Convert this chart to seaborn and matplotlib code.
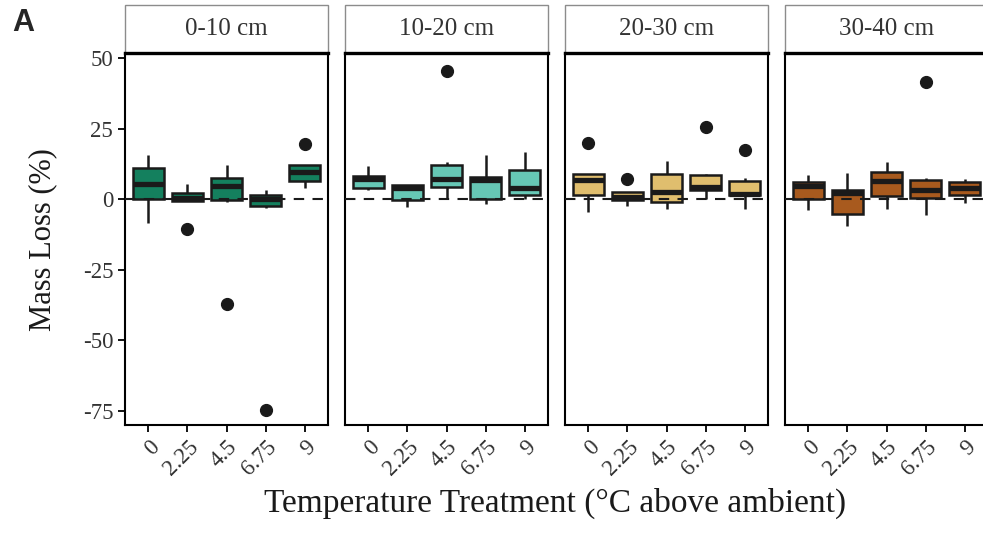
import numpy as np
import pandas as pd
import matplotlib
matplotlib.use("Agg")
import matplotlib.pyplot as plt
from matplotlib.patches import Rectangle
import seaborn as sns

# ==========================================
# DATA (box summaries, % mass loss)
# ==========================================
treatments = ["0", "2.25", "4.5", "6.75", "9"]
depths = ["0-10 cm", "10-20 cm", "20-30 cm", "30-40 cm"]

# whisker low, Q1, median, Q3, whisker high -- one list per depth, one value per treatment
whisk_lo = {
    "0-10 cm":  [-8.5, -0.6, -1.0, -3.2, 3.9],
    "10-20 cm": [3.3, -2.6, 0.0, -1.8, 0.0],
    "20-30 cm": [-4.7, -2.3, -3.5, 0.0, -3.5],
    "30-40 cm": [-3.9, -9.4, -3.5, -5.6, -1.2],
}
q1 = {
    "0-10 cm":  [0.0, -0.6, -0.4, -2.3, 6.5],
    "10-20 cm": [4.1, -0.2, 4.5, 0.0, 1.5],
    "20-30 cm": [1.4, -0.4, -0.9, 3.2, 1.4],
    "30-40 cm": [0.0, -5.3, 1.2, 0.6, 1.5],
}
median = {
    "0-10 cm":  [5.5, 0.6, 4.7, 0.0, 9.6],
    "10-20 cm": [7.0, 3.9, 7.0, 6.8, 3.8],
    "20-30 cm": [6.8, 0.9, 2.6, 4.5, 2.0],
    "30-40 cm": [4.7, 2.3, 6.5, 3.3, 3.8],
}
q3 = {
    "0-10 cm":  [11.1, 2.3, 7.6, 1.5, 12.0],
    "10-20 cm": [8.2, 5.0, 12.1, 7.9, 10.3],
    "20-30 cm": [8.8, 2.7, 8.8, 8.6, 6.5],
    "30-40 cm": [6.2, 3.3, 9.7, 6.8, 6.2],
}
whisk_hi = {
    "0-10 cm":  [15.8, 5.5, 12.0, 3.3, 12.0],
    "10-20 cm": [11.7, 5.0, 13.2, 15.5, 16.7],
    "20-30 cm": [8.8, 2.7, 13.5, 9.0, 7.4],
    "30-40 cm": [8.5, 9.4, 13.3, 7.4, 7.3],
}
# outliers: (depth, treatment, value)
outliers = [
    ("0-10 cm", "2.25", -10.6),
    ("0-10 cm", "4.5", -37.0),
    ("0-10 cm", "6.75", -74.7),
    ("0-10 cm", "9", 19.6),
    ("10-20 cm", "4.5", 45.4),
    ("20-30 cm", "0", 20.0),
    ("20-30 cm", "2.25", 7.0),
    ("20-30 cm", "6.75", 25.5),
    ("20-30 cm", "9", 17.3),
    ("30-40 cm", "6.75", 41.7),
]

depth_colors = ["#14805E", "#66C7B5", "#E0BE6E", "#A85A1E"]

# ==========================================
# Build a long table that reproduces the box summaries
# (each quartile value repeated so the percentiles land on it)
# ==========================================
rows = []
for d in depths:
    for i, t in enumerate(treatments):
        vals = ([whisk_lo[d][i]] + [q1[d][i]] * 3 + [median[d][i]] * 3
                + [q3[d][i]] * 3 + [whisk_hi[d][i]])
        vals += [v for (dd, tt, v) in outliers if dd == d and tt == t]
        for v in vals:
            rows.append({"Depth": d, "Treatment": t, "MassLoss": v})
df = pd.DataFrame(rows)

# ==========================================
# PLOT
# ==========================================
sns.set_style("white")
plt.rcParams["font.family"] = ["Liberation Serif", "DejaVu Serif"]

W, H = 983, 533
fig = plt.figure(figsize=(W / 100, H / 100), dpi=100)

panel_left = [125, 345, 565, 785]
panel_w = 203
top_px, bot_px = 53, 425
strip_top = 5

for k, d in enumerate(depths):
    ax = fig.add_axes([panel_left[k] / W, (H - bot_px) / H,
                       panel_w / W, (bot_px - top_px) / H])
    sub = df[df["Depth"] == d]
    sns.boxplot(data=sub, x="Treatment", y="MassLoss", order=treatments,
                color=depth_colors[k], saturation=1, width=0.78, whis=1.2,
                showcaps=False,
                linecolor="#1a1a1a", linewidth=1.8,
                medianprops={"linewidth": 3.8, "color": "#1a1a1a"},
                flierprops={"marker": "o", "markersize": 8.5,
                            "markerfacecolor": "#1a1a1a",
                            "markeredgecolor": "#1a1a1a"},
                ax=ax)
    ax.axhline(0, color="#1a1a1a", linestyle=(0, (5, 4)), linewidth=1.5, zorder=5)

    ax.set_xlim(-0.6, 4.6)
    ax.set_ylim(-80, 51.8)
    ax.set_yticks([50, 25, 0, -25, -50, -75])
    ax.set_xlabel("")
    ax.set_ylabel("")
    for sp in ax.spines.values():
        sp.set_color("black")
        sp.set_linewidth(1.5)
    ax.spines["top"].set_linewidth(2.4)
    ax.tick_params(axis="both", which="both", direction="out", length=5,
                   width=1.3, color="black", labelsize=16.5, labelcolor="#333333",
                   bottom=True, left=True)
    ax.set_xticks(range(len(treatments)))
    ax.set_xticklabels(treatments, rotation=45, ha="right", va="top",
                       rotation_mode="anchor")
    if k == 0:
        ax.set_yticklabels(["50", "25", "0", "-25", "-50", "-75"])
    else:
        ax.set_yticklabels([])
        ax.tick_params(axis="y", left=False)

    # facet strip
    strip_h = (top_px - strip_top) / (bot_px - top_px)
    ax.add_patch(Rectangle((0, 1), 1, strip_h, transform=ax.transAxes,
                           facecolor="white", edgecolor="#8c8c8c",
                           linewidth=1.0, clip_on=False, zorder=0))
    ax.text(0.5, 1 + strip_h / 2, d, transform=ax.transAxes,
            ha="center", va="center", fontsize=18, color="#333333")

fig.text(43 / W, 1 - 240 / H, "Mass Loss (%)", rotation=90,
         ha="center", va="center", fontsize=22, color="#1a1a1a")
fig.text(555 / W, 1 - 503 / H, "Temperature Treatment (\u00b0C above ambient)",
         ha="center", va="center", fontsize=24, color="#1a1a1a")
fig.text(12 / W, 1 - 23 / H, "A", ha="left", va="center", fontsize=22,
         fontweight="bold", family=["Liberation Sans", "DejaVu Sans"])

fig.savefig("out.png", dpi=100)
